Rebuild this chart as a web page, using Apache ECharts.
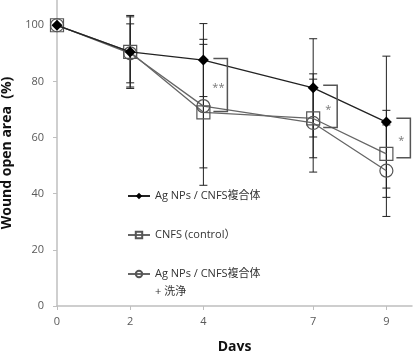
<!DOCTYPE html>
<html>
<head>
<meta charset="utf-8">
<script src="https://cdn.jsdelivr.net/npm/echarts@6/dist/echarts.min.js"></script>
<style>html,body{margin:0;padding:0;background:#fff;}#c{width:416px;height:351px;}</style>
</head>
<body>
<div id="c"></div>
<script>
// ---- data ----
const days = [0, 2, 4, 7, 9];
const xTickLabels = [0, 2, 4, 7, 9];
const yTickLabels = [0, 20, 40, 60, 80, 100];
const seriesNames = ['Ag NPs / CNFS複合体', 'CNFS (control）', 'Ag NPs / CNFS複合体 + 洗浄'];
const agCnfs = [100, 90.5, 87.6, 77.7, 65.5];
const agCnfsErr = [0, 13, 13, 17.5, 23.5];
const cnfsControl = [100, 90.5, 69.0, 66.8, 54.2];
const cnfsControlErr = [0, 12.5, 26, 14, 15.5];
const agCnfsWashed = [100, 90.0, 71.2, 65.2, 48.2];
const agCnfsWashedErr = [0, 10.5, 22, 17.5, 16.3];
const sigDays = [4, 7, 9];
const sigTop = [88.2, 78.6, 66.9];
const sigBottom = [69.3, 63.6, 52.8];
const sigMarks = ['**', '*', '*'];

// ---- build ----
const font = '"Open Sans", "Noto Sans CJK JP", sans-serif';
function pairs(v) { return days.map((d, i) => [d, v[i]]); }
function errData(v, e) { return days.map((d, i) => [d, v[i] - e[i], v[i] + e[i]]); }
function errRender(params, api) {
  const x = api.value(0), lo = api.value(1), hi = api.value(2);
  if (hi - lo <= 0) return null;
  const a = api.coord([x, hi]), b = api.coord([x, lo]);
  const w = 4;
  const st = { stroke: '#222', lineWidth: 1 };
  return { type: 'group', children: [
    { type: 'line', shape: { x1: a[0], y1: a[1], x2: b[0], y2: b[1] }, style: st },
    { type: 'line', shape: { x1: a[0] - w, y1: a[1], x2: a[0] + w, y2: a[1] }, style: st },
    { type: 'line', shape: { x1: b[0] - w, y1: b[1], x2: b[0] + w, y2: b[1] }, style: st }
  ]};
}
function errSeries(v, e) {
  return { type: 'custom', renderItem: errRender, data: errData(v, e), encode: { x: 0, y: [1, 2] }, z: 1, silent: true };
}
function sigRender(params, api) {
  const x = api.value(0), t = api.value(1), b = api.value(2);
  const p1 = api.coord([x, t]), p2 = api.coord([x, b]);
  const xl = p1[0] + 10, xr = p1[0] + 24;
  return { type: 'group', children: [
    { type: 'polyline', shape: { points: [[xl, p1[1]], [xr, p1[1]], [xr, p2[1]], [xl, p2[1]]] },
      style: { stroke: '#555', lineWidth: 1.5, fill: null } },
    { type: 'text', style: { text: sigMarks[params.dataIndex], x: xr - 9, y: (p1[1] + p2[1]) / 2 + 3,
      align: 'center', verticalAlign: 'middle', fill: '#777', font: '11px ' + font } }
  ]};
}

const chart = echarts.init(document.getElementById('c'), null, { renderer: 'canvas' });
chart.setOption({
  animation: false,
  backgroundColor: '#fff',
  grid: { left: 57, right: 4, top: 0, bottom: 45, containLabel: false, outerBoundsMode: 'none' },
  legend: {
    orient: 'vertical', left: 127, top: 188.5, padding: 0, itemGap: 24, itemWidth: 22, itemHeight: 8,
    data: seriesNames,
    formatter: function (n) { return n === seriesNames[2] ? seriesNames[0] : n; },
    textStyle: { fontSize: 11, color: '#333', fontFamily: font, lineHeight: 15 }
  },
  graphic: [
    { type: 'text', left: 155, top: 286, style: { text: '+ 洗浄', fill: '#333', font: '11px ' + font } }
  ],
  xAxis: {
    type: 'value', min: 0, max: 9.7,
    name: 'Days', nameLocation: 'middle', nameGap: 34,
    nameTextStyle: { fontSize: 14, fontWeight: 'bold', color: '#111', fontFamily: font },
    axisLine: { show: true, lineStyle: { color: '#bfbfbf', width: 1.5 } },
    axisTick: { show: true, length: 4, customValues: xTickLabels, lineStyle: { color: '#bfbfbf' } },
    axisLabel: { customValues: xTickLabels, margin: 10, fontSize: 11, color: '#595959', fontFamily: font },
    splitLine: { show: false }
  },
  yAxis: {
    type: 'value', min: 0, max: 109, interval: 20,
    name: 'Wound open area  (%)', nameLocation: 'middle', nameGap: 33,
    nameTextStyle: { fontSize: 14, fontWeight: 'bold', color: '#111', fontFamily: font },
    axisLine: { show: true, lineStyle: { color: '#bfbfbf', width: 1.5 } },
    axisTick: { show: true, length: 4, customValues: yTickLabels, lineStyle: { color: '#bfbfbf' } },
    axisLabel: { customValues: yTickLabels, margin: 13, fontSize: 11, color: '#595959', fontFamily: font },
    splitLine: { show: false }
  },
  series: [
    errSeries(agCnfs, agCnfsErr),
    errSeries(cnfsControl, cnfsControlErr),
    errSeries(agCnfsWashed, agCnfsWashedErr),
    {
      name: seriesNames[2], type: 'line', data: pairs(agCnfsWashed), z: 3,
      symbol: 'circle', symbolSize: 13,
      lineStyle: { color: '#666', width: 1.3 },
      itemStyle: { color: 'rgba(255,255,255,0)', borderColor: '#555', borderWidth: 1.2 }
    },
    {
      name: seriesNames[1], type: 'line', data: pairs(cnfsControl), z: 3,
      symbol: 'rect', symbolSize: 13,
      lineStyle: { color: '#666', width: 1.3 },
      itemStyle: { color: 'rgba(255,255,255,0)', borderColor: '#555', borderWidth: 1.2 }
    },
    {
      name: seriesNames[0], type: 'line', data: pairs(agCnfs), z: 4,
      symbol: 'diamond', symbolSize: 11,
      lineStyle: { color: '#222', width: 1.3 },
      itemStyle: { color: '#000' }
    },
    {
      type: 'custom', renderItem: sigRender, z: 5, silent: true,
      data: sigDays.map((d, i) => [d, sigTop[i], sigBottom[i]]), encode: { x: 0, y: [1, 2] }
    }
  ]
});
</script>
</body>
</html>
